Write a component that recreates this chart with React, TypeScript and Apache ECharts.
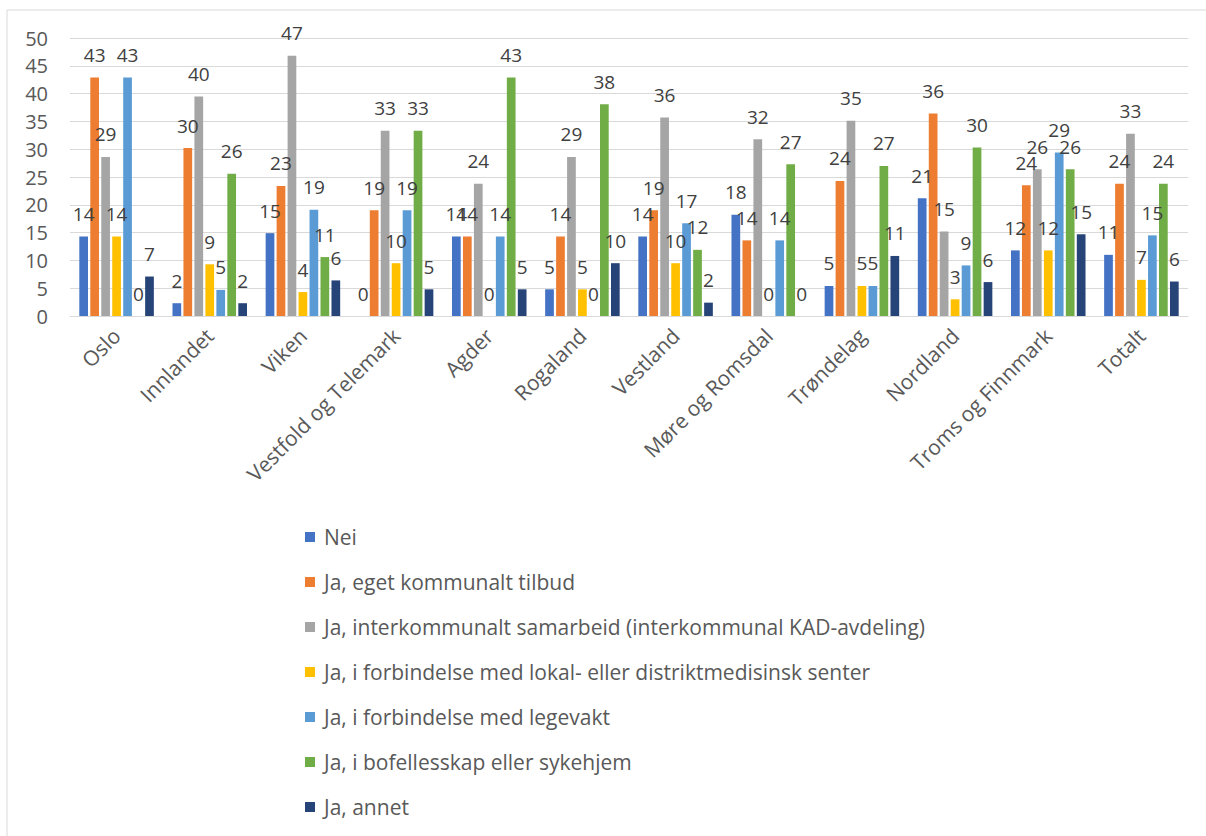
import React, { useEffect, useRef } from "react";
import * as echarts from "echarts";

const categories = [
  "Oslo",
  "Innlandet",
  "Viken",
  "Vestfold og Telemark",
  "Agder",
  "Rogaland",
  "Vestland",
  "Møre og Romsdal",
  "Trøndelag",
  "Nordland",
  "Troms og Finnmark",
  "Totalt",
];

const seriesNames = [
  "Nei",
  "Ja, eget kommunalt tilbud",
  "Ja, interkommunalt samarbeid (interkommunal KAD-avdeling)",
  "Ja, i forbindelse med lokal- eller distriktmedisinsk senter",
  "Ja, i forbindelse med legevakt",
  "Ja, i bofellesskap eller sykehjem",
  "Ja, annet",
];

const nei = [14.3, 2.3, 14.9, 0, 14.3, 4.8, 14.3, 18.2, 5.4, 21.2, 11.8, 11.0];
const egetKommunalt = [42.9, 30.2, 23.4, 19.0, 14.3, 14.3, 19.0, 13.6, 24.3, 36.4, 23.5, 23.8];
const interkommunalt = [28.6, 39.5, 46.8, 33.3, 23.8, 28.6, 35.7, 31.8, 35.1, 15.2, 26.4, 32.8];
const lokalMedisinsk = [14.3, 9.3, 4.3, 9.5, 0, 4.8, 9.5, 0, 5.4, 3.0, 11.8, 6.5];
const legevakt = [42.9, 4.7, 19.1, 19.0, 14.3, 0, 16.7, 13.6, 5.4, 9.1, 29.4, 14.5];
const bofellesskap = [0, 25.6, 10.6, 33.3, 42.9, 38.1, 11.9, 27.3, 27.0, 30.3, 26.4, 23.8];
const annet = [7.1, 2.3, 6.4, 4.8, 4.8, 9.5, 2.4, 0, 10.8, 6.1, 14.7, 6.2];

const seriesData = [nei, egetKommunalt, interkommunalt, lokalMedisinsk, legevakt, bofellesskap, annet];
const colors = ["#4472C4", "#ED7D31", "#A5A5A5", "#FFC000", "#5B9BD5", "#70AD47", "#264478"];

const yTicks = { min: 0, max: 50, interval: 5 };

const FONT = "'Open Sans', 'Noto Sans', 'Liberation Sans', sans-serif";

export default function App() {
  const ref = useRef<HTMLDivElement>(null);

  useEffect(() => {
    if (!ref.current) return;
    const chart = echarts.init(ref.current, null, { renderer: "svg" });
    chart.setOption({
      animation: false,
      backgroundColor: "#ffffff",
      color: colors,
      textStyle: { fontFamily: FONT },
      graphic: [
        {
          type: "line",
          shape: { x1: 7, y1: 10, x2: 1206, y2: 10 },
          style: { stroke: "#d9d9d9", lineWidth: 1 },
        },
        {
          type: "line",
          shape: { x1: 7, y1: 10, x2: 7, y2: 836 },
          style: { stroke: "#d9d9d9", lineWidth: 1 },
        },
      ],
      grid: { left: 70, right: 18, top: 38, bottom: 520, containLabel: false },
      legend: {
        orient: "vertical",
        left: 300,
        top: 521,
        icon: "rect",
        itemWidth: 10,
        itemHeight: 10,
        itemGap: 23,
        data: seriesNames,
        textStyle: {
          fontSize: 21,
          color: "#595959",
          fontFamily: FONT,
          lineHeight: 22,
          padding: [0, 0, 0, 4],
        },
      },
      xAxis: {
        type: "category",
        data: categories,
        axisLine: { lineStyle: { color: "#d9d9d9", width: 1 } },
        axisTick: { show: false },
        axisLabel: {
          rotate: 45,
          interval: 0,
          margin: 16,
          fontSize: 21,
          color: "#595959",
          fontFamily: FONT,
        },
      },
      yAxis: {
        type: "value",
        min: yTicks.min,
        max: yTicks.max,
        interval: yTicks.interval,
        axisLine: { show: false },
        axisTick: { show: false },
        splitLine: { lineStyle: { color: "#d9d9d9", width: 1 } },
        axisLabel: { fontSize: 20, color: "#595959", margin: 22, fontFamily: FONT },
      },
      series: seriesNames.map((name, i) => ({
        name,
        type: "bar",
        data: seriesData[i],
        barGap: "26%",
        barCategoryGap: "20%",
        itemStyle: { color: colors[i] },
        label: {
          show: true,
          position: "top",
          distance: 13,
          fontSize: 19,
          color: "#404040",
          fontFamily: FONT,
          formatter: (p: any) => String(Math.round(p.value)),
        },
      })),
    });
    return () => chart.dispose();
  }, []);

  return (
    <div
      ref={ref}
      style={{ position: "fixed", left: 0, top: 0, width: 1206, height: 836 }}
    />
  );
}
